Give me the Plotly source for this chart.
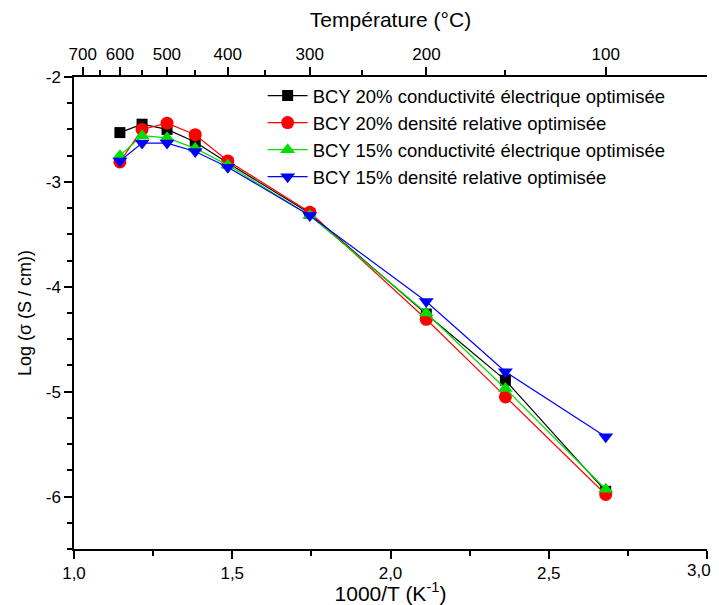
import plotly.graph_objects as go

# 1000/T (K^-1) positions of the measurement points
inv_T = [1.145, 1.215, 1.294, 1.383, 1.486, 1.745, 2.113, 2.363, 2.680]

bcy20_cond = [-2.53, -2.45, -2.50, -2.62, -2.82, -3.30, -4.26, -4.89, -5.95]
bcy20_dens = [-2.81, -2.50, -2.44, -2.55, -2.80, -3.29, -4.31, -5.05, -5.98]
bcy15_cond = [-2.75, -2.56, -2.58, -2.68, -2.84, -3.32, -4.25, -4.97, -5.93]
bcy15_dens = [-2.80, -2.63, -2.63, -2.71, -2.86, -3.32, -4.14, -4.81, -5.43]

names = [
    "BCY 20% conductivité électrique optimisée",
    "BCY 20% densité relative optimisée",
    "BCY 15% conductivité électrique optimisée",
    "BCY 15% densité relative optimisée",
]
colors = ["#000000", "#ff0000", "#00dd00", "#0000ff"]
symbols = ["square", "circle", "triangle-up", "triangle-down"]
sizes = [11, 13, 13, 13]

x_ticks = [1.0, 1.5, 2.0, 2.5, 3.0]
x_ticktext = ["1,0", "1,5", "2,0", "2,5", "3,0"]

# top axis temperatures (°C)
temp_major = [700, 600, 500, 400, 300, 200, 100]
temp_minor = [650, 550, 450, 350, 250, 150]

FONT = "Arial, Liberation Sans, sans-serif"

fig = go.Figure()
for ys, n, c, s, sz in zip([bcy20_cond, bcy20_dens, bcy15_cond, bcy15_dens], names, colors, symbols, sizes):
    fig.add_trace(go.Scatter(
        x=inv_T, y=ys, name=n, mode="lines+markers",
        line=dict(color=c, width=1.2),
        marker=dict(symbol=s, size=sz, color=c),
    ))

# invisible trace for the top axis
fig.add_trace(go.Scatter(x=[1, 3], y=[-2, -2], xaxis="x2", mode="markers",
                         marker=dict(opacity=0), showlegend=False, hoverinfo="skip"))

def k(t):
    return 1000.0 / (t + 273.15)

tick_common = dict(ticks="outside", ticklen=8, tickwidth=1.5, tickcolor="black",
                   showline=True, linecolor="black", linewidth=1.5,
                   showgrid=False, zeroline=False, automargin=False,
                   tickfont=dict(size=17))
minor_common = dict(ticks="outside", ticklen=5, tickwidth=1.5, tickcolor="black")

# page body has an 8px default margin, so the figure is sized to fit the window
fig.update_layout(
    width=711, height=597,
    margin=dict(l=66, r=12, t=69, b=56),
    paper_bgcolor="white", plot_bgcolor="white",
    font=dict(family=FONT, size=17, color="black"),
    showlegend=True,
    legend=dict(x=0.298, y=1.0, xanchor="left", yanchor="top",
                bgcolor="rgba(0,0,0,0)", font=dict(size=18.5, family=FONT),
                tracegroupgap=0, itemwidth=40),
    xaxis=dict(
        range=[1.0, 3.0], tickmode="array",
        tickvals=x_ticks,
        # last label drawn as an annotation so it stays inside the window
        ticktext=x_ticktext[:-1] + [""],
        minor=dict(tickvals=[1.25, 1.75, 2.25, 2.75], **minor_common),
        title=dict(text="1000/T (K<sup>-1</sup>)", font=dict(size=21), standoff=0),
        **tick_common,
    ),
    xaxis2=dict(
        overlaying="x", side="top", range=[1.0, 3.0], tickmode="array",
        tickvals=[k(t) for t in temp_major],
        ticktext=[str(t) for t in temp_major],
        minor=dict(tickvals=[k(t) for t in temp_minor], **minor_common),
        title=dict(text="Température (°C)", font=dict(size=21), standoff=12),
        **tick_common,
    ),
    yaxis=dict(
        range=[-6.5, -2.0], tickmode="array",
        tickvals=[-6, -5, -4, -3, -2],
        ticktext=["-6", "-5", "-4", "-3", "-2"],
        minor=dict(dtick=0.25, tick0=-2, **minor_common),
        title=dict(text="Log (σ (S / cm))", font=dict(size=18), standoff=9),
        **tick_common,
    ),
)

fig.add_annotation(x=x_ticks[-1], y=0, xref="x", yref="paper", text=x_ticktext[-1],
                   showarrow=False, xanchor="right", yanchor="top", xshift=6, yshift=-10,
                   font=dict(size=17, family=FONT, color="black"))

fig.write_html("out.html")
